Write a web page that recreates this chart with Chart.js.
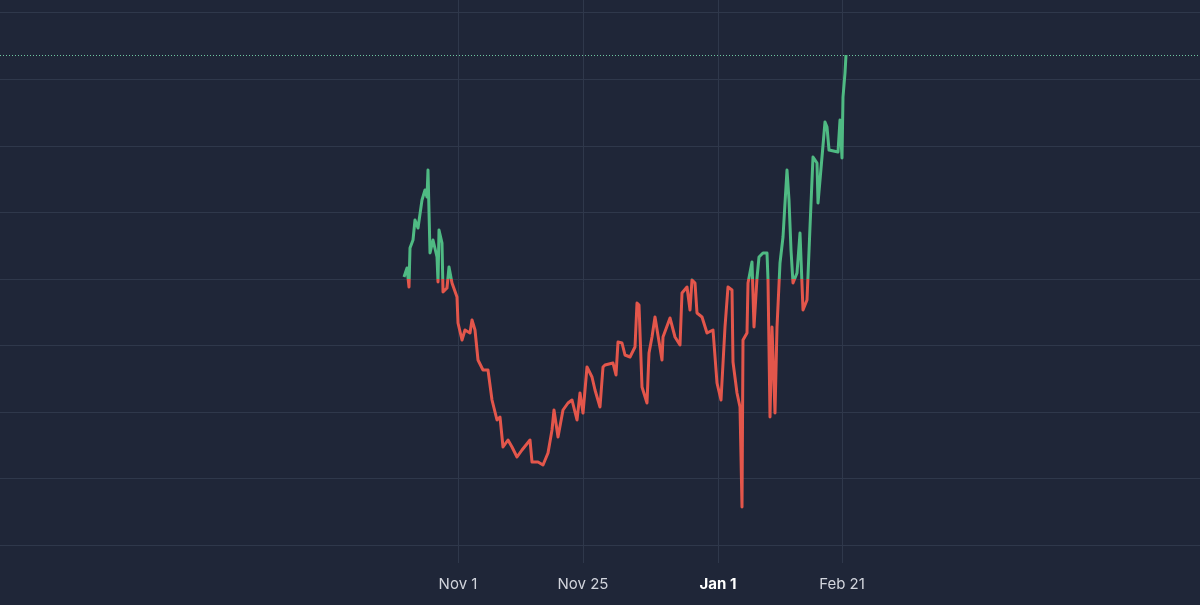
<!DOCTYPE html>
<html>
<head>
<meta charset="utf-8">
<script src="https://cdn.jsdelivr.net/npm/chart.js@4.4.1/dist/chart.umd.min.js"></script>
<style>
  html, body { margin: 0; padding: 0; background: #1f2638; }
  #wrap { width: 1200px; height: 605px; }
</style>
</head>
<body>
<div id="wrap"><canvas id="c"></canvas></div>
<script>
/* ── data: bar index on the time scale, price level ── */
const barIndex = [404,407,409,410,413,415,418,422,425,427,428,430,433,437,438,439,442,443,447,449,452,457,458,462,465,470,472,475,478,483,488,492,497,500,503,508,512,517,522,530,532,538,543,548,552,554,558,563,568,572,577,580,583,587,592,595,600,603,605,613,616,618,622,625,630,635,637,639,642,647,649,652,655,662,663,670,675,680,682,687,690,692,695,697,702,707,713,717,721,725,728,732,733,737,740,742,743,747,748,752,754,757,759,763,767,768,770,772,775,777,780,783,785,787,789,791,793,797,800,803,807,810,813,817,818,822,825,827,829,838,840,842,843,845,846];
const price = [323,332,313,352,360,380,372,400,410,403,430,347,360,343,318,370,357,308,312,333,317,303,277,260,270,267,280,270,240,230,230,200,180,183,153,160,153,143,150,160,138,138,135,147,170,190,163,190,197,200,180,207,187,233,223,210,193,233,235,237,225,258,257,245,243,253,297,295,213,197,247,263,283,240,263,282,263,255,307,313,290,320,317,287,283,267,270,217,200,273,313,310,238,207,193,93,260,267,317,338,273,322,343,347,347,320,183,273,187,273,337,363,397,430,400,350,317,327,367,290,300,373,443,437,397,443,478,473,450,448,480,442,503,527,545];
const tickIndex = [458, 583, 718, 842];
const tickLabels = ['Nov 1', 'Nov 25', 'Jan 1', 'Feb 21'];
const gridLevels = [55, 121.5, 188, 254.5, 321, 387.5, 454, 520.5, 587];
const baseLevel = 321;

const UP = '#4fba83';
const DOWN = '#e3564b';
const GRID = '#2f384b';

function lineColor(ctx) {
  const chart = ctx.chart;
  const area = chart.chartArea;
  if (!area) return UP;
  const y = chart.scales.y.getPixelForValue(baseLevel);
  const stop = Math.min(Math.max((y - area.top) / (area.bottom - area.top), 0), 1);
  const g = chart.ctx.createLinearGradient(0, area.top, 0, area.bottom);
  g.addColorStop(0, UP);
  g.addColorStop(stop, UP);
  g.addColorStop(stop, DOWN);
  g.addColorStop(1, DOWN);
  return g;
}

// dotted last-price line
const lastLine = {
  id: 'lastLine',
  beforeDatasetsDraw(chart) {
    const { ctx, chartArea, scales } = chart;
    const y = Math.round(scales.y.getPixelForValue(price[price.length - 1])) + 0.5;
    ctx.save();
    ctx.strokeStyle = '#6fc7a0';
    ctx.lineWidth = 1;
    ctx.setLineDash([1, 2]);
    ctx.beginPath();
    ctx.moveTo(chartArea.left, y);
    ctx.lineTo(chartArea.right, y);
    ctx.stroke();
    ctx.restore();
  }
};

new Chart(document.getElementById('c'), {
  type: 'line',
  data: {
    datasets: [{
      data: barIndex.map((x, k) => ({ x, y: price[k] })),
      borderColor: lineColor,
      borderWidth: 3,
      pointRadius: 0,
      tension: 0,
      borderJoinStyle: 'round'
    }]
  },
  options: {
    responsive: true,
    maintainAspectRatio: false,
    animation: false,
    layout: { padding: 0 },
    plugins: { legend: { display: false }, tooltip: { enabled: false } },
    scales: {
      x: {
        type: 'linear', min: 0, max: 1200,
        afterBuildTicks: s => { s.ticks = tickIndex.map(v => ({ value: v })); },
        grid: { color: GRID, drawTicks: false },
        border: { display: false },
        ticks: {
          padding: 12,
          maxRotation: 0,
          color: c => tickLabels[c.index] === 'Jan 1' ? '#ffffff' : '#d1d4dc',
          font: c => ({ family: 'Inter', size: 15, weight: tickLabels[c.index] === 'Jan 1' ? 'bold' : 'normal' }),
          callback: (v, i) => tickLabels[i]
        }
      },
      y: {
        min: 37, max: 600,
        afterBuildTicks: s => { s.ticks = gridLevels.map(v => ({ value: v })); },
        display: true,
        grid: { color: GRID, drawTicks: false },
        border: { display: false },
        ticks: { display: false }
      }
    }
  },
  plugins: [lastLine]
});
</script>
</body>
</html>
